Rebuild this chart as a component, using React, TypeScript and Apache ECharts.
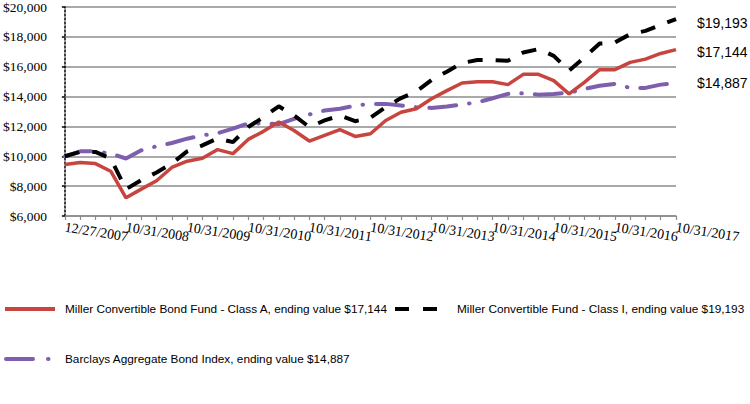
import React, { useEffect, useRef } from 'react';
import * as echarts from 'echarts';

const categories = [
  '12/27/2007', '01/31/2008', '04/30/2008', '07/31/2008', '10/31/2008',
  '01/31/2009', '04/30/2009', '07/31/2009', '10/31/2009',
  '01/31/2010', '04/30/2010', '07/31/2010', '10/31/2010',
  '01/31/2011', '04/30/2011', '07/31/2011', '10/31/2011',
  '01/31/2012', '04/30/2012', '07/31/2012', '10/31/2012',
  '01/31/2013', '04/30/2013', '07/31/2013', '10/31/2013',
  '01/31/2014', '04/30/2014', '07/31/2014', '10/31/2014',
  '01/31/2015', '04/30/2015', '07/31/2015', '10/31/2015',
  '01/31/2016', '04/30/2016', '07/31/2016', '10/31/2016',
  '01/31/2017', '04/30/2017', '07/31/2017', '10/31/2017',
];

const classA = [
  9450, 9580, 9510, 9000, 7220, 7800, 8360, 9250, 9670, 9870, 10450,
  10180, 11130, 11670, 12300, 11730, 11020, 11400, 11780, 11330, 11510,
  12400, 12950, 13180, 13850, 14400, 14910, 15000, 14990, 14800, 15490,
  15490, 15070, 14180, 14950, 15800, 15800, 16290, 16510, 16890, 17144,
];

const classI = [
  10000, 10290, 10290, 9850, 7800, 8400, 8920, 9510, 10330, 10730, 11200,
  10950, 11960, 12620, 13350, 12730, 11960, 12400, 12730, 12350, 12580,
  13290, 13900, 14330, 15110, 15670, 16250, 16450, 16450, 16400, 16950,
  17180, 16730, 15730, 16620, 17550, 17620, 18180, 18400, 18800, 19193,
];

const barclays = [
  10000, 10330, 10330, 10180, 9850, 10400, 10670, 10890, 11180, 11400, 11550,
  11850, 12200, 12200, 12150, 12510, 12800, 13070, 13180, 13400, 13510,
  13510, 13400, 13290, 13240, 13330, 13470, 13620, 13890, 14180, 14220,
  14130, 14180, 14250, 14510, 14730, 14850, 14580, 14580, 14800, 14887,
];

const nameA = 'Miller Convertible Bond Fund - Class A, ending value $17,144';
const nameI = 'Miller Convertible Fund - Class I, ending value $19,193';
const nameB = 'Barclays Aggregate Bond Index, ending value $14,887';
const endLabels = ['$17,144', '$19,193', '$14,887'];

const RED = '#C8453F';
const PURPLE = '#7E5FAE';

export default function App() {
  const ref = useRef<HTMLDivElement>(null);
  useEffect(() => {
    if (!ref.current) return;
    const chart = echarts.init(ref.current, null, { renderer: 'svg' });
    const legendFont = { fontFamily: 'Liberation Sans', fontSize: 11.8, fill: '#000', verticalAlign: 'middle' as const };
    const labelStyle = {
      rotate: -9,
      margin: 11,
      hideOverlap: false,
      fontFamily: 'Liberation Serif',
      fontSize: 14,
      color: '#000',
    };
    chart.setOption({
      animation: false,
      backgroundColor: '#fff',
      grid: { left: 62, right: 74, top: 6, bottom: 188 },
      graphic: [
        { type: 'line', shape: { x1: 5, y1: 309, x2: 55, y2: 309 }, style: { stroke: RED, lineWidth: 4 } },
        { type: 'text', x: 65, y: 309, style: { text: nameA, ...legendFont } },
        { type: 'line', shape: { x1: 395, y1: 309, x2: 450, y2: 309 }, style: { stroke: '#000', lineWidth: 4, lineDash: [14, 14] } },
        { type: 'text', x: 457, y: 309, style: { text: nameI, ...legendFont } },
        { type: 'line', shape: { x1: 6, y1: 359, x2: 52, y2: 359 }, style: { stroke: PURPLE, lineWidth: 4, lineDash: [27, 15, 0.5, 100], lineCap: 'round' } },
        { type: 'text', x: 65, y: 359, style: { text: nameB, ...legendFont } },
      ],
      xAxis: [
        {
          type: 'category',
          data: categories,
          boundaryGap: false,
          position: 'bottom',
          axisLine: { lineStyle: { color: '#8a8a8a', width: 1.5 } },
          axisTick: { show: true, interval: 0, length: 4, lineStyle: { color: '#8a8a8a', width: 1.2 } },
          axisLabel: { ...labelStyle, interval: (i: number) => i % 8 === 0 },
          splitLine: { show: false },
        },
        {
          type: 'category',
          data: categories,
          boundaryGap: false,
          position: 'bottom',
          offset: 0,
          axisLine: { show: false },
          axisTick: { show: false },
          axisLabel: { ...labelStyle, interval: (i: number) => i % 8 === 4 },
          splitLine: { show: false },
        },
      ],
      yAxis: {
        type: 'value',
        min: 6000,
        max: 20000,
        interval: 2000,
        axisLine: { show: true, lineStyle: { color: '#000', width: 1.5, type: [2, 2] } },
        axisTick: { show: true, length: 3, lineStyle: { color: '#000', width: 1.5 } },
        axisLabel: {
          margin: 18,
          fontFamily: 'Liberation Serif',
          fontSize: 13.5,
          color: '#000',
          formatter: (v: number) => '$' + v.toLocaleString('en-US'),
        },
        splitLine: { show: true, lineStyle: { color: '#8c8c8c', width: 1.5 } },
      },
      series: [
        {
          name: nameA,
          type: 'line',
          data: classA,
          symbol: 'none',
          z: 3,
          lineStyle: { color: RED, width: 3.5, type: 'solid' },
          itemStyle: { color: RED },
          endLabel: { show: true, formatter: endLabels[0], distance: 21, offset: [0, 2], fontFamily: 'Liberation Sans', fontSize: 14, color: '#000' },
        },
        {
          name: nameI,
          type: 'line',
          data: classI,
          symbol: 'none',
          z: 4,
          lineStyle: { color: '#000', width: 4, type: [15, 13] },
          itemStyle: { color: '#000' },
          endLabel: { show: true, formatter: endLabels[1], distance: 21, offset: [0, 4], fontFamily: 'Liberation Sans', fontSize: 14, color: '#000' },
        },
        {
          name: nameB,
          type: 'line',
          data: barclays,
          symbol: 'none',
          z: 2,
          lineStyle: { color: PURPLE, width: 4, type: [27, 13, 0.5, 13], cap: 'round' },
          itemStyle: { color: PURPLE },
          endLabel: { show: true, formatter: endLabels[2], distance: 21, offset: [0, 0], fontFamily: 'Liberation Sans', fontSize: 14, color: '#000' },
        },
      ],
    });
    return () => chart.dispose();
  }, []);
  return <div ref={ref} style={{ position: 'absolute', left: 0, top: 0, width: 750, height: 404 }} />;
}
